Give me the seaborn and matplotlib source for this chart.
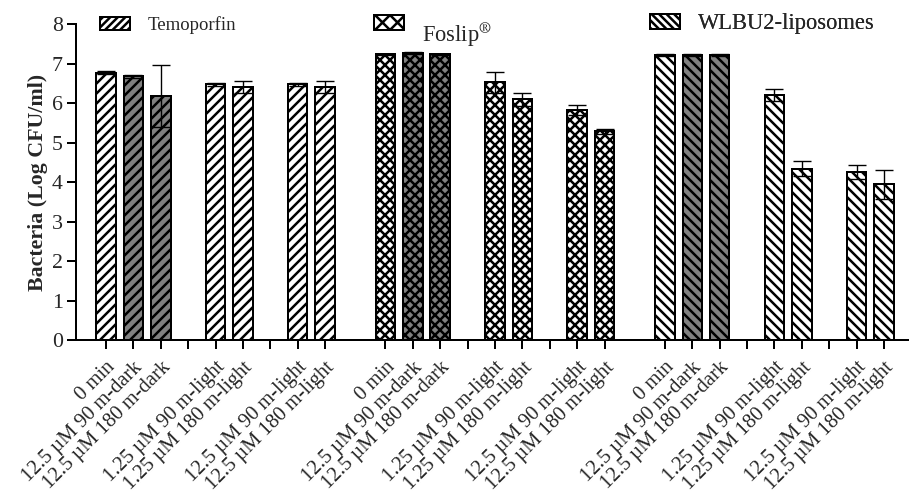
import matplotlib
matplotlib.use("Agg")
import matplotlib.pyplot as plt
from matplotlib.patches import Patch
import pandas as pd
import seaborn as sns

# ---- data -------------------------------------------------------------
products = ["Temoporfin", "Foslip", "WLBU2-liposomes"]
legend_labels = ["Temoporfin", r"Foslip$^{\circledR}$", "WLBU2-liposomes"]
conditions = [
    "0 min",
    "12.5 µM 90 m-dark",
    "12.5 µM 180 m-dark",
    "1.25 µM 90 m-light",
    "1.25 µM 180 m-light",
    "12.5 µM 90 m-light",
    "12.5 µM 180 m-light",
]
temoporfin_mean = [6.78, 6.68, 6.19, 6.48, 6.41, 6.48, 6.41]
temoporfin_sd = [0.05, 0.03, 0.79, 0.03, 0.15, 0.03, 0.15]
foslip_mean = [7.24, 7.27, 7.24, 6.53, 6.10, 5.84, 5.29]
foslip_sd = [0.02, 0.02, 0.02, 0.27, 0.17, 0.13, 0.06]
wlbu2_mean = [7.23, 7.23, 7.23, 6.21, 4.35, 4.26, 3.95]
wlbu2_sd = [0.02, 0.02, 0.02, 0.15, 0.19, 0.18, 0.37]
y_ticks = [0, 1, 2, 3, 4, 5, 6, 7, 8]

# ---- layout / style ---------------------------------------------------
slot_of_condition = [0, 1, 2, 4, 5, 7, 8]   # empty slots between time blocks
slots_per_group = 9
group_step = 10.2
hatches = ["///", "xxx", "\\\\\\"]
legend_hatches = ["////", "xx", "\\\\\\\\"]
DPI = 90
W, H = 909, 499

sns.set_style("ticks")
plt.rcParams["font.family"] = ["Liberation Serif", "DejaVu Serif"]
plt.rcParams["mathtext.fontset"] = "stix"
plt.rcParams["hatch.linewidth"] = 2.0
plt.rcParams["hatch.color"] = "black"

rows = []
for g, (name, means, sds) in enumerate(zip(
        products,
        [temoporfin_mean, foslip_mean, wlbu2_mean],
        [temoporfin_sd, foslip_sd, wlbu2_sd])):
    for c, (m, s) in enumerate(zip(means, sds)):
        rows.append(dict(product=name, condition=conditions[c],
                         pos=g * group_step + slot_of_condition[c],
                         mean=m, sd=s,
                         shade="dark" if "dark" in conditions[c] else "light"))
df = pd.DataFrame(rows)

fig = plt.figure(figsize=(W / DPI, H / DPI), dpi=DPI)
ax = fig.add_axes([76 / W, 1 - 340.4 / H, 1 - 76 / W, (340.4 - 24.3) / H])

for name, hatch in zip(products, hatches):
    sub = df[df["product"] == name]
    sns.barplot(data=sub, x="pos", y="mean", hue="shade",
                palette={"light": "white", "dark": "#808080"},
                native_scale=True, width=0.71, dodge=False, errorbar=None,
                edgecolor="black", linewidth=1.6, hatch=hatch,
                legend=False, ax=ax, zorder=2)
    ax.errorbar(sub["pos"], sub["mean"], yerr=sub["sd"], fmt="none",
                ecolor="black", elinewidth=1.1, capsize=7, capthick=1.1,
                zorder=5)

# x ticks on every slot, labels only where a bar stands
tick_pos, tick_lab = [], []
for g in range(len(products)):
    for j in range(slots_per_group):
        tick_pos.append(g * group_step + j)
        tick_lab.append(conditions[slot_of_condition.index(j)]
                        if j in slot_of_condition else "")
ax.set_xticks(tick_pos)
ax.set_xticklabels(tick_lab, rotation=45, ha="right", va="top",
                   rotation_mode="anchor", fontsize=16.5)
ax.tick_params(axis="x", pad=7)

first = 0
last = (len(products) - 1) * group_step + slots_per_group - 1
ax.set_xlim(first - 30 / 27.39, last + 25 / 27.39)
ax.set_ylim(0, 8)
ax.set_yticks(y_ticks)
ax.set_yticklabels([str(t) for t in y_ticks], fontsize=17.5)
ax.tick_params(axis="both", width=1.6, length=7, color="black")
ax.set_xlabel("")
ax.set_ylabel("Bacteria (Log CFU/ml)", fontsize=17.5, fontweight="bold",
              labelpad=3)

for side in ["top", "right"]:
    ax.spines[side].set_visible(False)
for side in ["left", "bottom"]:
    ax.spines[side].set_linewidth(1.6)
    ax.spines[side].set_color("black")

# one legend entry above each product block
legend_spec = [
    (legend_labels[0], legend_hatches[0], 100, 25, 15.0, 0),
    (legend_labels[1], legend_hatches[1], 374, 23, 18.0, -12),
    (legend_labels[2], legend_hatches[2], 650, 24, 18.0, 0),
]
for label, hatch, x_px, y_px, fs, text_dy in legend_spec:
    handle = Patch(facecolor="white", edgecolor="black", hatch=hatch,
                   linewidth=1.6)
    leg = ax.legend(handles=[handle], labels=[label], loc="center left",
                    bbox_to_anchor=(x_px / W, 1 - y_px / H),
                    bbox_transform=fig.transFigure, frameon=False,
                    borderpad=0, borderaxespad=0,
                    handlelength=24 / fs, handleheight=11 / fs,
                    handletextpad=14 / fs, fontsize=fs)
    if text_dy:
        txt = leg.get_texts()[0]
        txt.set_y(txt.get_position()[1] + text_dy)
    ax.add_artist(leg)

fig.savefig("out.png", dpi=DPI)
